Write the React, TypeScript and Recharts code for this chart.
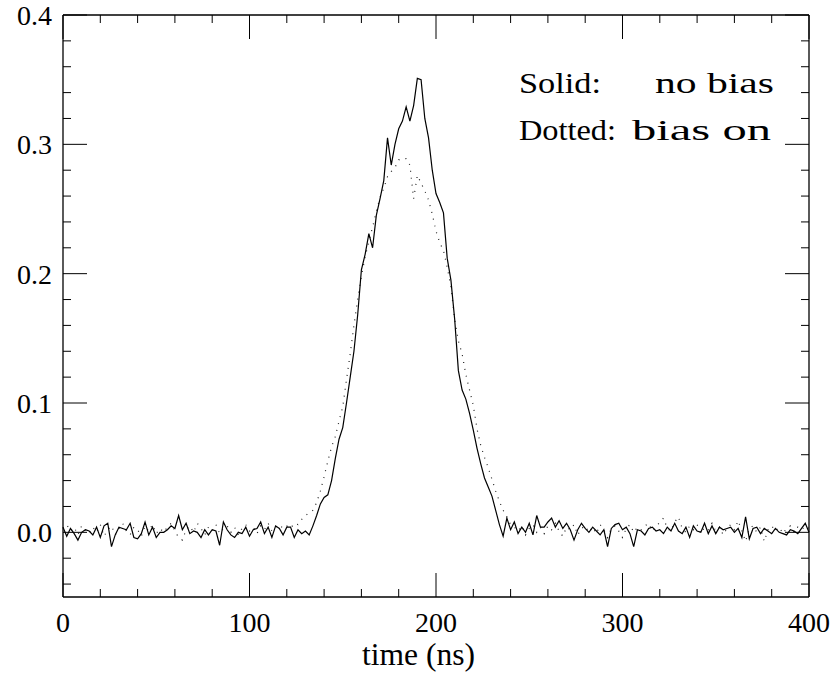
import React from 'react';
import { LineChart, Line, XAxis, YAxis, ReferenceLine, Customized } from 'recharts';

// time step between samples (ns)
const timeStepNs = 2;

// Solid: no bias (t = 0, 2, 4, ... 400 ns)
const solidNoBias = [
  0.004, -0.003, 0.003, -0.001, -0.006, 0.000, 0.002, 0.001, -0.002, 0.004,
  -0.004, 0.005, 0.007, -0.011, -0.002, 0.004, 0.003, 0.002, 0.007, -0.004,
  -0.005, -0.001, 0.008, -0.002, 0.004, -0.004, 0.000, 0.000, 0.002, 0.005,
  0.003, 0.013, 0.002, 0.007, -0.001, 0.001, 0.000, -0.004, 0.002, -0.002,
  0.002, 0.001, -0.010, 0.008, 0.002, -0.002, -0.004, 0.000, -0.001, 0.004,
  -0.003, 0.002, 0.003, 0.008, -0.001, 0.004, -0.004, 0.005, 0.003, -0.002,
  0.004, 0.004, -0.004, 0.002, -0.001, 0.001, -0.002, 0.005, 0.013, 0.022,
  0.027, 0.029, 0.040, 0.057, 0.072, 0.081, 0.100, 0.120, 0.140, 0.168,
  0.203, 0.215, 0.231, 0.220, 0.245, 0.258, 0.272, 0.305, 0.284, 0.300,
  0.312, 0.318, 0.329, 0.318, 0.330, 0.351, 0.350, 0.320, 0.305, 0.280,
  0.262, 0.255, 0.247, 0.212, 0.195, 0.165, 0.125, 0.110, 0.103, 0.092,
  0.079, 0.065, 0.053, 0.042, 0.035, 0.028, 0.017, 0.006, -0.003, 0.011,
  0.002, 0.008, -0.001, 0.004, 0.000, 0.007, -0.002, 0.013, 0.004, 0.004,
  0.008, 0.011, 0.004, 0.009, 0.003, 0.007, 0.002, -0.006, 0.002, 0.007,
  0.003, 0.000, 0.004, 0.001, -0.002, 0.002, -0.011, 0.003, 0.006, 0.007,
  0.002, 0.004, -0.001, -0.011, 0.002, 0.001, -0.002, 0.003, 0.004, 0.001,
  0.002, -0.001, 0.004, 0.001, 0.007, 0.001, -0.001, 0.004, -0.004, 0.005,
  0.001, 0.000, 0.007, -0.001, 0.005, -0.001, 0.004, 0.002, 0.003, 0.004,
  0.000, 0.003, -0.004, 0.012, -0.005, 0.003, 0.004, -0.001, 0.003, 0.001,
  -0.001, 0.003, 0.000, -0.001, -0.002, 0.002, 0.001, -0.001, 0.003, 0.007,
  0.000,
];

// Dotted: bias on (t = 0, 2, 4, ... 400 ns)
const dottedBiasOn = [
  0.003, 0.006, 0.001, 0.004, -0.002, 0.005, 0.002, -0.001, 0.004, 0.000,
  0.006, -0.003, 0.002, 0.005, -0.002, 0.003, 0.007, 0.001, -0.002, 0.004,
  0.002, -0.003, 0.005, 0.001, 0.006, -0.001, 0.003, 0.000, 0.004, 0.007,
  0.001, -0.004, -0.006, 0.002, 0.005, 0.000, 0.007, 0.003, -0.002, 0.004,
  0.001, 0.006, -0.001, 0.003, 0.005, 0.000, 0.004, -0.002, 0.003, 0.006,
  0.001, 0.004, -0.001, 0.005, 0.002, 0.007, 0.001, 0.004, 0.006, 0.003,
  0.005, 0.003, 0.007, 0.006, 0.010, 0.013, 0.015, 0.017, 0.023, 0.032,
  0.043, 0.055, 0.066, 0.074, 0.086, 0.097, 0.118, 0.138, 0.160, 0.180,
  0.198, 0.213, 0.225, 0.236, 0.248, 0.259, 0.266, 0.275, 0.279, 0.282,
  0.288, 0.289, 0.289, 0.284, 0.258, 0.276, 0.270, 0.264, 0.257, 0.246,
  0.233, 0.224, 0.218, 0.205, 0.190, 0.165, 0.148, 0.138, 0.122, 0.110,
  0.098, 0.080, 0.067, 0.058, 0.050, 0.041, 0.032, 0.024, 0.017, 0.012,
  0.006, 0.004, 0.001, 0.005, -0.002, 0.003, 0.006, 0.000, 0.004, -0.001,
  0.005, 0.002, 0.007, 0.001, -0.003, 0.004, 0.002, 0.006, -0.002, 0.003,
  0.005, 0.000, 0.004, -0.001, 0.006, 0.002, -0.004, 0.003, 0.005, 0.001,
  -0.004, 0.003, 0.006, 0.000, 0.004, 0.002, 0.005, 0.007, 0.001, 0.004,
  0.008, 0.011, 0.003, 0.001, 0.008, 0.012, 0.003, 0.000, 0.005, 0.002,
  0.006, -0.001, 0.004, 0.002, 0.007, 0.001, 0.004, -0.002, 0.003, 0.006,
  0.002, 0.009, 0.001, -0.007, 0.003, 0.005, 0.000, 0.004, -0.007, 0.002,
  0.005, 0.001, 0.004, -0.001, 0.003, 0.005, 0.000, 0.004, 0.002, 0.005,
  0.003,
];

const xTicks = [0, 20, 40, 60, 80, 100, 120, 140, 160, 180, 200, 220, 240, 260, 280, 300, 320, 340, 360, 380, 400];
const xMajorTicks = [0, 100, 200, 300, 400];
const yTicks = [
  -0.04, -0.02, 0, 0.02, 0.04, 0.06, 0.08, 0.1, 0.12, 0.14, 0.16, 0.18, 0.2,
  0.22, 0.24, 0.26, 0.28, 0.3, 0.32, 0.34, 0.36, 0.38, 0.4,
];
const yMajorTicks = [0, 0.1, 0.2, 0.3, 0.4];

const xLabel = 'time (ns)';
const legendSolid = ['Solid:', 'no bias'];
const legendDotted = ['Dotted:', 'bias on'];

const data = solidNoBias.map((v, i) => ({
  t: i * timeStepNs,
  solid: v,
  dotted: dottedBiasOn[i],
}));

const W = 837;
const H = 679;
const PLOT_TOP = 15;
const PLOT_RIGHT = 809;
const FONT = '"Liberation Serif", "Times New Roman", serif';
const MAJOR = 24;
const MINOR = 8;

const isMajorY = (v: number) => yMajorTicks.some((m) => Math.abs(m - v) < 1e-9);

function XTick(props: any) {
  const { x, y, payload } = props;
  const major = xMajorTicks.includes(payload.value);
  const len = major ? MAJOR : MINOR;
  return (
    <g>
      <line x1={x} y1={y} x2={x} y2={y - len} stroke="#000" strokeWidth={1} />
      <line x1={x} y1={PLOT_TOP} x2={x} y2={PLOT_TOP + len} stroke="#000" strokeWidth={1} />
      {major && (
        <text x={x} y={y + 35} textAnchor="middle" fontSize={28} fontFamily={FONT} fill="#000">
          {payload.value}
        </text>
      )}
    </g>
  );
}

function YTick(props: any) {
  const { x, y, payload } = props;
  const major = isMajorY(payload.value);
  const len = major ? MAJOR : MINOR;
  return (
    <g>
      <line x1={x} y1={y} x2={x + len} y2={y} stroke="#000" strokeWidth={1} />
      <line x1={PLOT_RIGHT - len} y1={y} x2={PLOT_RIGHT} y2={y} stroke="#000" strokeWidth={1} />
      {major && (
        <text x={x - 11} y={y + 10} textAnchor="end" fontSize={28} fontFamily={FONT} fill="#000">
          {Number(payload.value).toFixed(1)}
        </text>
      )}
    </g>
  );
}

function Annotations() {
  return (
    <g fontFamily={FONT} fill="#000">
      <text x={519} y={93} fontSize={30} textLength={82} lengthAdjust="spacingAndGlyphs">{legendSolid[0]}</text>
      <text x={655} y={93} fontSize={30} textLength={119} lengthAdjust="spacingAndGlyphs">{legendSolid[1]}</text>
      <text x={519} y={140} fontSize={30} textLength={97} lengthAdjust="spacingAndGlyphs">{legendDotted[0]}</text>
      <text x={632} y={140} fontSize={30} textLength={139} lengthAdjust="spacingAndGlyphs">{legendDotted[1]}</text>
      <text x={362} y={665} fontSize={31} textLength={113} lengthAdjust="spacingAndGlyphs">{xLabel}</text>
    </g>
  );
}

export default function App() {
  return (
    <div style={{ position: 'absolute', left: 0, top: 0, width: W, height: H, background: '#fff' }}>
      <LineChart width={W} height={H} data={data} margin={{ top: PLOT_TOP, right: W - PLOT_RIGHT, bottom: 0, left: 0 }}>
        <XAxis
          dataKey="t"
          type="number"
          domain={[0, 400]}
          ticks={xTicks}
          interval={0}
          height={82}
          tickLine={false}
          tickSize={0}
          tickMargin={0}
          axisLine={{ stroke: '#000', strokeWidth: 1.3 }}
          tick={<XTick />}
        />
        <YAxis
          type="number"
          domain={[-0.05, 0.4]}
          ticks={yTicks}
          interval={0}
          width={63}
          tickLine={false}
          tickSize={0}
          tickMargin={0}
          axisLine={{ stroke: '#000', strokeWidth: 1.3 }}
          tick={<YTick />}
        />
        <ReferenceLine y={0.4} stroke="#000" strokeWidth={1.3} />
        <ReferenceLine x={400} stroke="#000" strokeWidth={1.3} />
        <Line
          type="linear"
          dataKey="dotted"
          stroke="#222"
          strokeWidth={1.2}
          strokeDasharray="1 6"
          dot={false}
          isAnimationActive={false}
        />
        <Line
          type="linear"
          dataKey="solid"
          stroke="#000"
          strokeWidth={1.2}
          dot={false}
          isAnimationActive={false}
        />
        <Customized component={<Annotations />} />
      </LineChart>
    </div>
  );
}
